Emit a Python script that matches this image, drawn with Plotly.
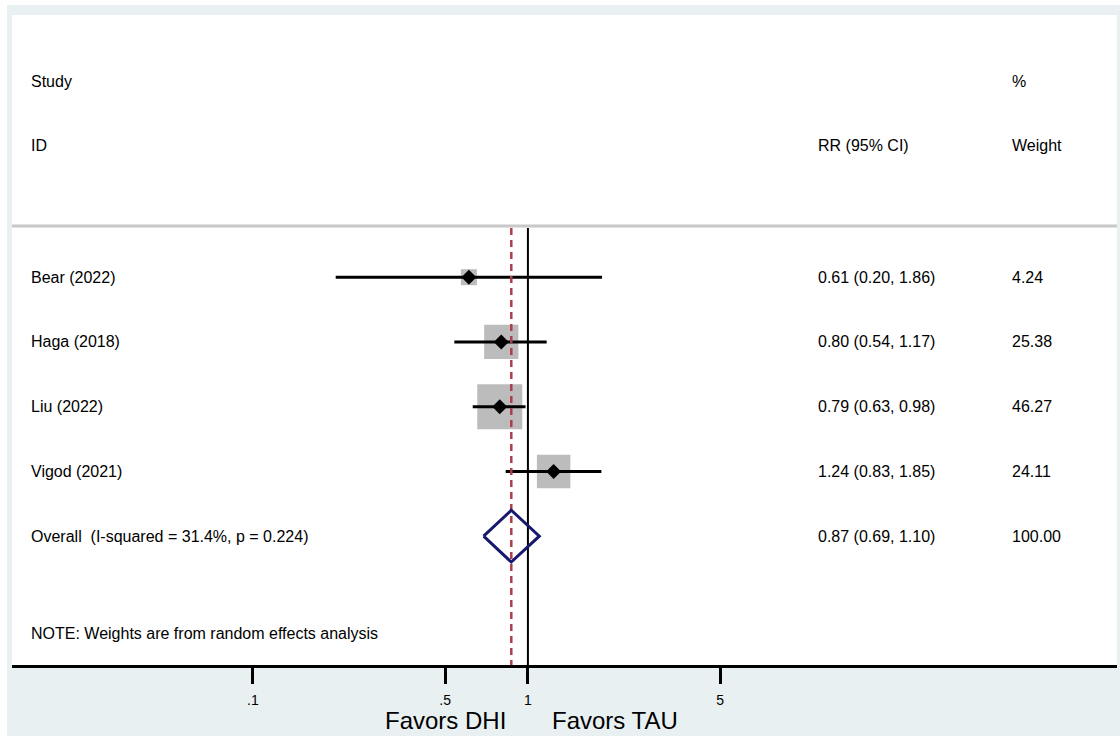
import math
import plotly.graph_objects as go

# ---------------- data ----------------
studies = ["Bear (2022)", "Haga (2018)", "Liu (2022)", "Vigod (2021)"]
rr = [0.61, 0.80, 0.79, 1.24]
ci_lo = [0.20, 0.54, 0.63, 0.83]
ci_hi = [1.86, 1.17, 0.98, 1.85]
weights = [4.24, 25.38, 46.27, 24.11]

overall_label = "Overall  (I-squared = 31.4%, p = 0.224)"
overall_rr = 0.87
overall_lo = 0.69
overall_hi = 1.10
overall_weight = 100.00

tick_vals = [0.1, 0.5, 1, 5]
tick_text = [".1", ".5", "1", "5"]
note_text = "NOTE: Weights are from random effects analysis"

# ---------------- layout constants ----------------
W, H = 1120, 736
ML, MR, MT, MB = 12, 3, 15, 71
PW = W - ML - MR
PH = H - MT - MB
BG = "#e8f0f2"
FONT = "Arial, Liberation Sans, sans-serif"

Y_TOP, Y_BOT = -4.05, 5.99      # row units (row i at y=i)
Y_HEAD1, Y_HEAD2, Y_SEP, Y_NOTE = -3.03, -2.04, -0.79, 5.5
X_RANGE = [-1.876, 2.142]       # log10 units

fig = go.Figure()

# weight boxes
box_sizes = [3.4 + 6.12 * math.sqrt(w) for w in weights]
fig.add_trace(go.Scatter(x=rr, y=list(range(len(studies))), mode="markers",
                         marker=dict(symbol="square", color="#bcbcbc", opacity=1,
                                     size=box_sizes, line=dict(width=0)),
                         hoverinfo="skip", showlegend=False))

# CI lines
for i in range(len(studies)):
    fig.add_trace(go.Scatter(x=[ci_lo[i], ci_hi[i]], y=[i, i], mode="lines",
                             line=dict(color="black", width=3), hoverinfo="skip",
                             showlegend=False))

# vertical line at no effect
fig.add_trace(go.Scatter(x=[1, 1], y=[Y_SEP + 0.03, Y_BOT], mode="lines",
                         line=dict(color="black", width=2), hoverinfo="skip",
                         showlegend=False))
# dashed overall line
fig.add_trace(go.Scatter(x=[overall_rr, overall_rr], y=[Y_SEP + 0.03, Y_BOT], mode="lines",
                         line=dict(color="#a8404c", width=2.5, dash="7px,5px"),
                         hoverinfo="skip", showlegend=False))

# point estimates
fig.add_trace(go.Scatter(x=rr, y=list(range(len(studies))), mode="markers",
                         marker=dict(symbol="diamond", color="black", size=11.5, opacity=1),
                         hoverinfo="skip", showlegend=False))

# overall diamond
oy = len(studies)
fig.add_trace(go.Scatter(x=[overall_lo, overall_rr, overall_hi, overall_rr, overall_lo],
                         y=[oy, oy - 0.4, oy, oy + 0.4, oy], mode="lines",
                         line=dict(color="#18186e", width=3), hoverinfo="skip",
                         showlegend=False))

# ---------------- text ----------------
def px_x(p):
    return (p - ML) / PW

ann = []
def add(text, xp, y, size=16, yref="y", xanchor="left"):
    ann.append(dict(text=text, x=xp, y=y, xref="paper", yref=yref, xanchor=xanchor,
                    yanchor="middle", showarrow=False,
                    font=dict(family=FONT, size=size, color="black")))

add("Study", px_x(29), Y_HEAD1)
add("ID", px_x(29), Y_HEAD2)
add("RR (95% CI)", px_x(816), Y_HEAD2)
add("%", px_x(1010), Y_HEAD1)
add("Weight", px_x(1010), Y_HEAD2)

for i, s in enumerate(studies):
    add(s, px_x(29), i)
    add(f"{rr[i]:.2f} ({ci_lo[i]:.2f}, {ci_hi[i]:.2f})", px_x(816), i)
    add(f"{weights[i]:.2f}", px_x(1010), i)
add(overall_label, px_x(29), oy)
add(f"{overall_rr:.2f} ({overall_lo:.2f}, {overall_hi:.2f})", px_x(816), oy)
add(f"{overall_weight:.2f}", px_x(1010), oy)
add(note_text, px_x(29), Y_NOTE)

# Favors labels
ann.append(dict(text="Favors DHI", x=0, y=-0.085, xref="x", yref="paper",
                xanchor="right", yanchor="middle", xshift=-20, showarrow=False,
                font=dict(family=FONT, size=24, color="black")))
ann.append(dict(text="Favors TAU", x=0, y=-0.085, xref="x", yref="paper",
                xanchor="left", yanchor="middle", xshift=22, showarrow=False,
                font=dict(family=FONT, size=24, color="black")))

shapes = [
    # white strips at top and left edges of the page
    dict(type="rect", xref="paper", yref="paper", x0=-0.05, x1=1.05,
         y0=1 + (MT - 5) / PH, y1=1.1,
         fillcolor="white", line=dict(width=0), layer="below"),
    dict(type="rect", xref="paper", yref="paper", x0=-0.05, x1=(7 - ML) / PW,
         y0=-0.2, y1=1.1, fillcolor="white", line=dict(width=0), layer="below"),
    # separator under header
    dict(type="line", xref="paper", yref="y", x0=0, x1=1, y0=Y_SEP, y1=Y_SEP,
         line=dict(color="#c8c8c8", width=3)),
]

fig.update_layout(
    width=W, height=H,
    margin=dict(l=ML, r=MR, t=MT, b=MB, pad=0),
    paper_bgcolor=BG, plot_bgcolor="white",
    font=dict(family=FONT, color="black"),
    showlegend=False,
    annotations=ann, shapes=shapes,
    xaxis=dict(type="log", range=X_RANGE, showgrid=False, zeroline=False,
               showline=True, linecolor="black", linewidth=2.5,
               ticks="outside", ticklen=16, tickwidth=2.5, tickcolor="black",
               tickvals=tick_vals, ticktext=tick_text, ticklabelstandoff=4,
               tickfont=dict(family=FONT, size=14, color="black")),
    yaxis=dict(range=[Y_BOT, Y_TOP], showgrid=False, zeroline=False,
               showticklabels=False, showline=False, ticks=""),
)

fig.write_html("out.html")
